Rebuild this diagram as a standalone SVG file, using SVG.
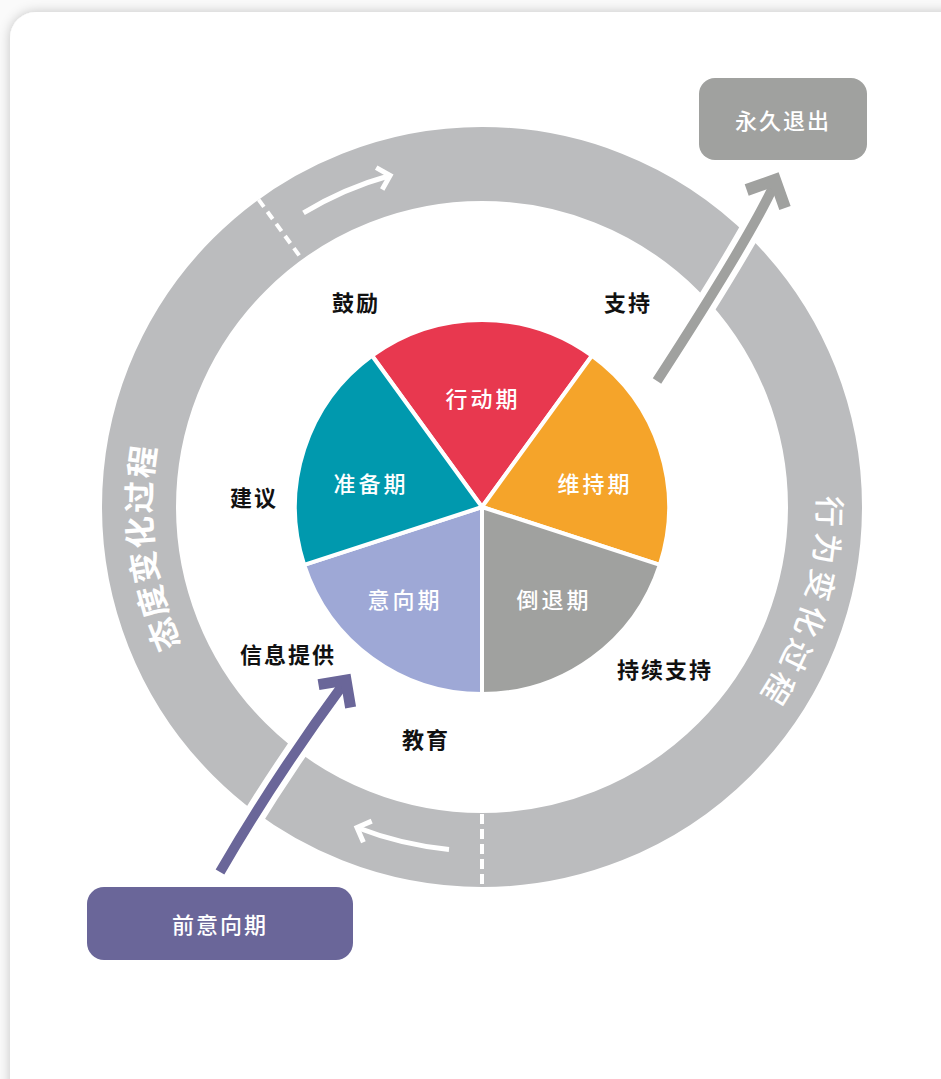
<svg xmlns="http://www.w3.org/2000/svg" width="941" height="1079" viewBox="0 0 941 1079">
<defs>
<filter id="shadow" x="-5%" y="-5%" width="110%" height="110%">
<feDropShadow dx="0" dy="0" stdDeviation="6" flood-color="#000" flood-opacity="0.22"/>
</filter>
<path id="arcL" d="M228.4,719.8 A331,331 0 0 1 184.5,361.9"/>
<path id="arcR" d="M797.7,392.1 A336,336 0 0 1 684.2,775.3"/>
</defs>
<style>
.slice{stroke:#fff;stroke-width:4;stroke-linejoin:round}
.lbl{font-family:"Noto Sans CJK SC","Noto Sans",sans-serif;font-size:22px;font-weight:700;fill:#111;text-anchor:middle;dominant-baseline:central;letter-spacing:2px}
.wl{font-family:"Noto Sans CJK SC","Noto Sans",sans-serif;font-size:22px;font-weight:500;fill:#fff;text-anchor:middle;dominant-baseline:central;letter-spacing:3px}
.ringtxt{font-family:"Noto Sans CJK SC","Noto Sans",sans-serif;fill:#fff;text-anchor:middle}
.dash{stroke:#fff;stroke-width:4;fill:none}
.warrow{stroke:#fff;stroke-width:5;fill:none}
.box-t{font-family:"Noto Sans CJK SC","Noto Sans",sans-serif;font-size:22px;font-weight:500;fill:#fff;text-anchor:middle;dominant-baseline:central;letter-spacing:2px}
</style>
<rect x="0" y="0" width="941" height="1079" fill="#fafafa"/>
<rect x="10" y="12" width="980" height="1120" rx="26" fill="#fff" filter="url(#shadow)"/>

<g id="ring">
<circle cx="482" cy="507" r="343" fill="none" stroke="#bbbcbe" stroke-width="74"/>
<line class="dash" x1="258.6" y1="199.6" x2="302.1" y2="259.4" stroke-dasharray="9 6"/>
<line class="dash" x1="482" y1="814" x2="482" y2="887" stroke-dasharray="10 5"/>
<path class="warrow" d="M303.5,212.9 A344,344 0 0 1 390.1,175.5"/>
<polyline class="warrow" points="376.2,167.6 390.1,175.5 382.2,189.4"/>
<path class="warrow" d="M449,849.4 A344,344 0 0 1 357,827.5"/>
<polyline class="warrow" points="371.7,821.1 357,827.5 363.4,842.2"/>
<text class="ringtxt" font-size="32" font-weight="700" letter-spacing="2"><textPath href="#arcL" startOffset="50%">态度变化过程</textPath></text>
<text class="ringtxt" font-size="31" font-weight="500" letter-spacing="5"><textPath href="#arcR" startOffset="50%">行为变化过程</textPath></text>
</g>

<g id="pie">
<g id="action"><path class="slice" fill="#e8384f" d="M482,507 L372.08,355.72 A187,187 0 0 1 591.92,355.72 Z"/><text class="wl" x="483" y="397">行动期</text></g>
<g id="maintain"><path class="slice" fill="#f5a42a" d="M482,507 L591.92,355.72 A187,187 0 0 1 659.85,564.78 Z"/><text class="wl" x="595" y="482">维持期</text></g>
<g id="relapse"><path class="slice" fill="#a0a19f" d="M482,507 L659.85,564.78 A187,187 0 0 1 482,694 Z"/><text class="wl" x="554" y="598">倒退期</text></g>
<g id="contemplation"><path class="slice" fill="#9ea8d6" d="M482,507 L482,694 A187,187 0 0 1 304.15,564.78 Z"/><text class="wl" x="405" y="598">意向期</text></g>
<g id="preparation"><path class="slice" fill="#0099ae" d="M482,507 L304.15,564.78 A187,187 0 0 1 372.08,355.72 Z"/><text class="wl" x="371" y="482">准备期</text></g>
</g>

<g id="labels">
<text class="lbl" x="356" y="301">鼓励</text>
<text class="lbl" x="628" y="301">支持</text>
<text class="lbl" x="254" y="496">建议</text>
<text class="lbl" x="288" y="653">信息提供</text>
<text class="lbl" x="426" y="738">教育</text>
<text class="lbl" x="665" y="668">持续支持</text>
</g>

<g id="connectors">
<path d="M657,381 Q751,236 775,183" fill="none" stroke="#fff" stroke-width="22"/>
<path d="M657,381 Q751,236 775,183" fill="none" stroke="#a0a19f" stroke-width="10"/>
<polyline points="746.7,190 775,180 785,208" fill="none" stroke="#a0a19f" stroke-width="12" stroke-linejoin="miter" stroke-miterlimit="10"/>
<path d="M220,872 Q274,778.5 345,682" fill="none" stroke="#fff" stroke-width="22"/>
<path d="M220,872 Q274,778.5 345,682" fill="none" stroke="#6a6699" stroke-width="10"/>
<polyline points="318.5,684.6 346,680 350.6,707.5" fill="none" stroke="#6a6699" stroke-width="11" stroke-linejoin="miter" stroke-miterlimit="10"/>
</g>

<g id="exit">
<rect x="699" y="78" width="168" height="82" rx="16" fill="#a0a19f"/>
<text class="box-t" x="783" y="119">永久退出</text>
</g>
<g id="precontemplation">
<rect x="87" y="887" width="266" height="73" rx="17" fill="#6a6699"/>
<text class="box-t" x="220" y="923">前意向期</text>
</g>
</svg>
